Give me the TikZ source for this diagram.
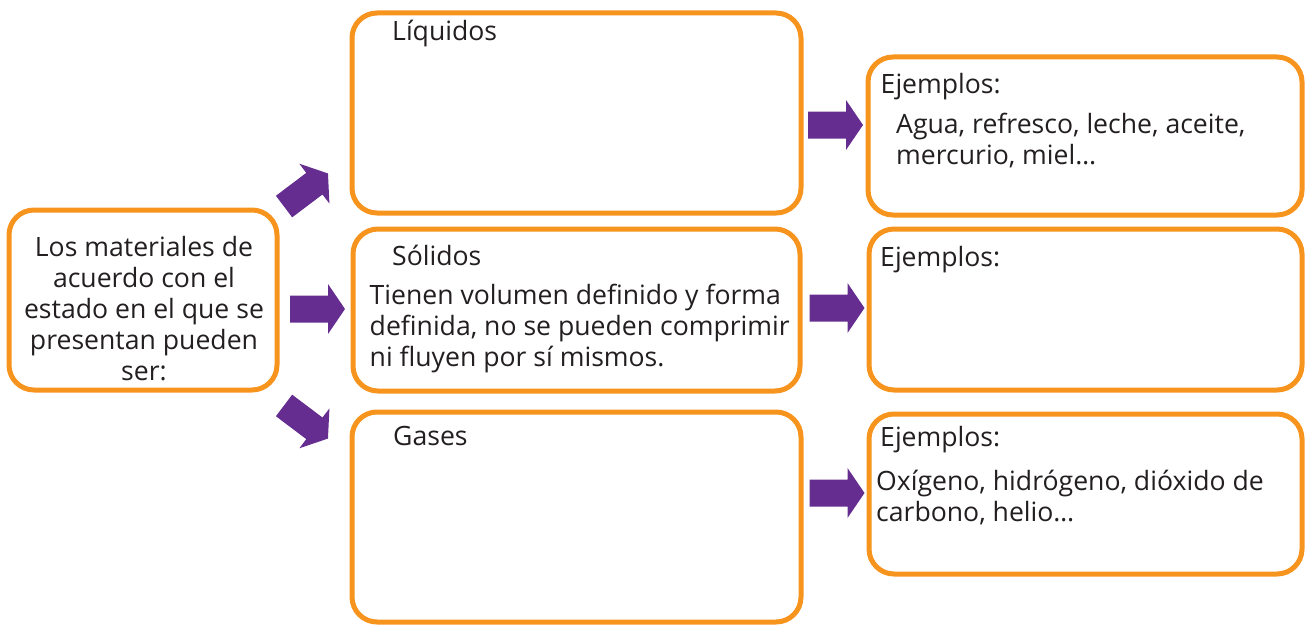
\documentclass[tikz,border=0pt]{standalone}
\usepackage{fontspec}
\setmainfont{Open Sans}
\definecolor{boxorange}{HTML}{F7941D}
\definecolor{arrowpurple}{HTML}{662D91}
\definecolor{txt}{HTML}{231F20}
\begin{document}
\begin{tikzpicture}[x=1pt,y=-1pt,
  box/.style={draw=boxorange, line width=5pt, fill=white, rounded corners=25pt, inner sep=0pt},
  lbl/.style={text=txt, inner sep=0pt, font=\fontsize{26.6}{31}\selectfont},
  fatarrow/.pic={\fill[arrowpurple] (-27.5,-13.5) -- (10.5,-13.5) -- (10.5,-25) -- (27.5,0) -- (10.5,25) -- (10.5,13.5) -- (-27.5,13.5) -- cycle;}]
\useasboundingbox (0,0) rectangle (1306,626);
% boxes
\node[box, minimum width=268pt, minimum height=180pt] (main) at (143,300) {};
\node[box, minimum width=449pt, minimum height=200pt] (liq) at (576.5,113) {};
\node[box, minimum width=447pt, minimum height=162pt] (sol) at (576.5,310) {};
\node[box, minimum width=449pt, minimum height=210pt] (gas) at (576.5,517) {};
\node[box, minimum width=434pt, minimum height=158pt] (ej1) at (1085,136) {};
\node[box, minimum width=433pt, minimum height=161pt] (ej2) at (1085.5,309.5) {};
\node[box, minimum width=433pt, minimum height=160pt] (ej3) at (1085.5,494) {};
% arrows
\pic (a1) at (306,190) [rotate=37] {fatarrow};
\pic (a2) at (317.5,309) {fatarrow};
\pic (a3) at (306,422) [rotate=-37] {fatarrow};
\pic (a4) at (835.5,125) {fatarrow};
\pic (a5) at (837,308) {fatarrow};
\pic (a6) at (837,493) {fatarrow};
% texts (multi-line nodes are anchored at the baseline of their last line)
\node[lbl, anchor=base, align=center] (tmain) at (144,380) {Los materiales de\\acuerdo con el\\estado en el que se\\presentan pueden\\ser:};
\node[lbl, anchor=base west] (tliq) at (392,41) {Líquidos};
\node[lbl, anchor=base west] (tsol) at (392,265) {Sólidos};
\node[lbl, anchor=base west, align=left] (tsold) at (369.5,366) {Tienen volumen definido y forma\\definida, no se pueden comprimir\\ni fluyen por sí mismos.};
\node[lbl, anchor=base west] (tgas) at (393,445) {Gases};
\node[lbl, anchor=base west] (tej1) at (880.5,93.7) {Ejemplos:};
\node[lbl, anchor=base west, align=left] (tej1d) at (896,164) {Agua, refresco, leche, aceite,\\mercurio, miel…};
\node[lbl, anchor=base west] (tej2) at (880,266.7) {Ejemplos:};
\node[lbl, anchor=base west] (tej3) at (880,446.7) {Ejemplos:};
\node[lbl, anchor=base west, align=left] (tej3d) at (876,521.5) {Oxígeno, hidrógeno, dióxido de\\carbono, helio…};
\end{tikzpicture}
\end{document}
